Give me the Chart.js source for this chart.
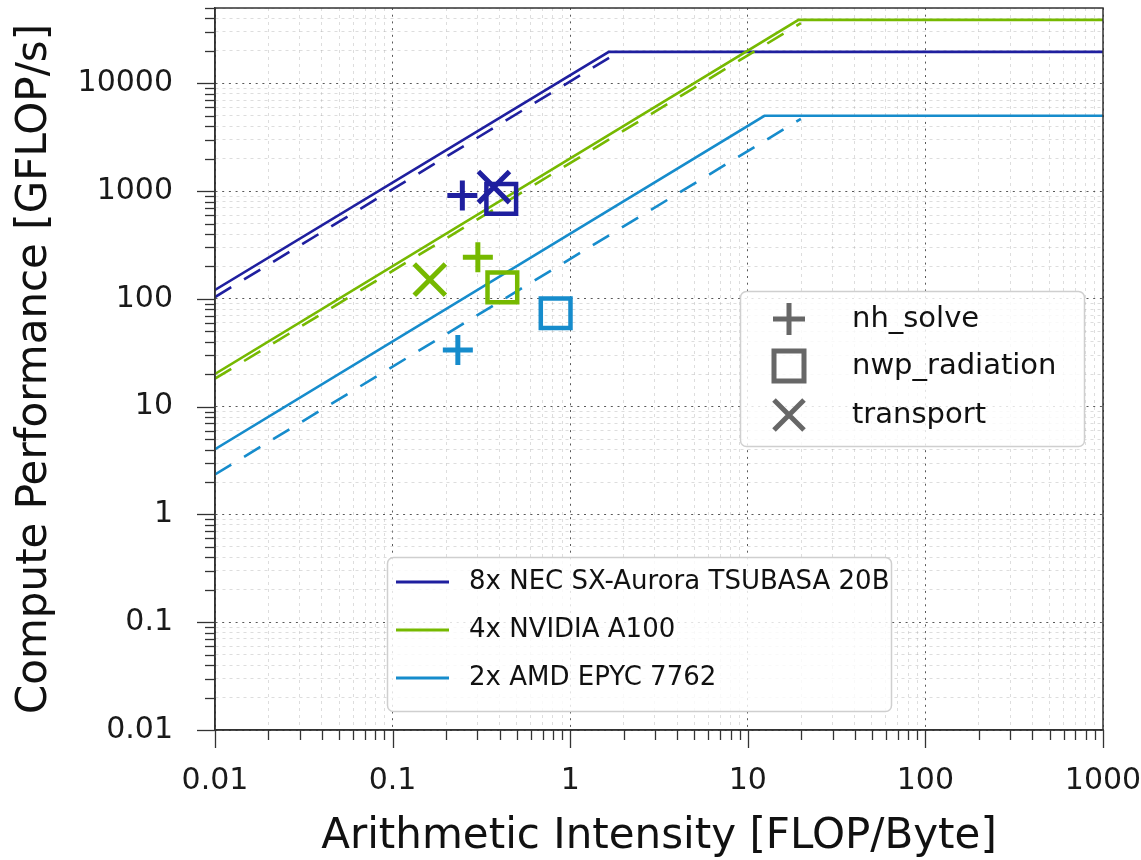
<!DOCTYPE html>
<html><head><meta charset="utf-8">
<script src="https://cdn.jsdelivr.net/npm/chart.js@4.4.1/dist/chart.umd.min.js"></script>
<style>html,body{margin:0;padding:0;background:#fff;} canvas{display:block;}</style>
</head><body>
<canvas id="c" width="1141" height="860"></canvas>
<script>
// ---- data ----
const devices = ['8x NEC SX-Aurora TSUBASA 20B', '4x NVIDIA A100', '2x AMD EPYC 7762'];
const deviceColors = ['#1f1f9f', '#76b900', '#168ccc'];
const kernels = ['nh_solve', 'nwp_radiation', 'transport'];
const kernelStyles = ['cross', 'rect', 'crossRot'];

// theoretical rooflines (solid)
const necRoofAI = [0.01, 1.65, 1000];
const necRoofPerf = [121, 19600, 19600];
const a100RoofAI = [0.01, 19.3, 1000];
const a100RoofPerf = [20.1, 38800, 38800];
const amdRoofAI = [0.01, 12.4, 1000];
const amdRoofPerf = [4.03, 5000, 5000];

// measured bandwidth lines (dashed)
const necMeasAI = [0.01, 1.91];
const necMeasPerf = [104, 19900];
const a100MeasAI = [0.01, 19.9];
const a100MeasPerf = [18.2, 36200];
const amdMeasAI = [0.01, 19.9];
const amdMeasPerf = [2.35, 4680];

// kernels: [nh_solve, nwp_radiation, transport]
const necKernelAI = [0.247, 0.409, 0.372];
const necKernelPerf = [910, 848, 1090];
const a100KernelAI = [0.302, 0.415, 0.162];
const a100KernelPerf = [244, 128, 151];
const amdKernelAI = [0.233, 0.828, null];
const amdKernelPerf = [33.6, 73.6, null];

// axes
const xTickValues = [0.01, 0.1, 1, 10, 100, 1000];
const xTickLabels = ['0.01', '0.1', '1', '10', '100', '1000'];
const yTickValues = [0.01, 0.1, 1, 10, 100, 1000, 10000];
const yTickLabels = ['0.01', '0.1', '1', '10', '100', '1000', '10000'];
const xRange = [0.01, 1000];
const yRange = [0.01, 50000];
const xTitle = 'Arithmetic Intensity [FLOP/Byte]';
const yTitle = 'Compute Performance [GFLOP/s]';

// ---- helpers ----
function pts(xs, ys) {
  const out = [];
  for (let i = 0; i < xs.length; i++) if (xs[i] != null && ys[i] != null) out.push({x: xs[i], y: ys[i]});
  return out;
}
function logTicks(min, max) {
  const t = [];
  for (let d = Math.log10(min); d <= Math.log10(max); d++) {
    for (let m = 1; m <= 9; m++) {
      const v = Number((m * Math.pow(10, d)).toPrecision(6));
      if (v <= max * 1.0001) t.push({value: v});
    }
  }
  return t;
}
function isMajor(v) {
  const l = Math.log10(v);
  return Math.abs(l - Math.round(l)) < 1e-6;
}
function labelFor(v, vals, labels) {
  for (let i = 0; i < vals.length; i++) if (Math.abs(v - vals[i]) / vals[i] < 1e-6) return labels[i];
  return '';
}

const roofs = [
  [necRoofAI, necRoofPerf, necMeasAI, necMeasPerf, necKernelAI, necKernelPerf],
  [a100RoofAI, a100RoofPerf, a100MeasAI, a100MeasPerf, a100KernelAI, a100KernelPerf],
  [amdRoofAI, amdRoofPerf, amdMeasAI, amdMeasPerf, amdKernelAI, amdKernelPerf]
];

const datasets = [];
roofs.forEach((r, i) => {
  datasets.push({type: 'line', label: devices[i], data: pts(r[0], r[1]), borderColor: deviceColors[i],
    borderWidth: 2.6, pointRadius: 0, fill: false, tension: 0, order: 5 - i});
  datasets.push({type: 'line', label: devices[i] + ' (measured)', data: pts(r[2], r[3]), borderColor: deviceColors[i],
    borderWidth: 2.6, borderDash: [19, 15], pointRadius: 0, fill: false, tension: 0, order: 5 - i});
});
const markerSize = {cross: 15, rect: 21, crossRot: 22};
const markerWidth = {cross: 5, rect: 4.5, crossRot: 5};
roofs.forEach((r, i) => {
  kernels.forEach((k, j) => {
    if (r[4][j] == null) return;
    datasets.push({type: 'scatter', label: devices[i] + ' ' + k, data: pts([r[4][j]], [r[5][j]]),
      pointStyle: kernelStyles[j], pointRadius: markerSize[kernelStyles[j]], pointHoverRadius: markerSize[kernelStyles[j]],
      pointBorderWidth: markerWidth[kernelStyles[j]], borderColor: deviceColors[i], pointBorderColor: deviceColors[i],
      pointBackgroundColor: 'rgba(0,0,0,0)', backgroundColor: 'rgba(0,0,0,0)', showLine: false, order: 0});
  });
});

const gridColor = (c) => (c.tick && isMajor(c.tick.value)) ? 'rgba(60,60,60,0.85)' : 'rgba(170,170,170,0.4)';
const gridDash = (c) => c.tick ? (isMajor(c.tick.value) ? [2, 4.7] : [3, 4]) : [];

const axisDecor = {
  id: 'axisDecor',
  afterDatasetsDraw(chart) {
    const {ctx, chartArea: a, scales} = chart;
    ctx.save();
    ctx.strokeStyle = '#333';
    ctx.lineWidth = 1.5;
    ctx.setLineDash([]);
    ctx.strokeRect(a.left, a.top, a.right - a.left, a.bottom - a.top);
    ctx.lineWidth = 1.3;
    scales.x.ticks.forEach(t => {
      const px = Math.round(scales.x.getPixelForValue(t.value)) + 0.5;
      const len = isMajor(t.value) ? 18 : 10;
      ctx.beginPath(); ctx.moveTo(px, a.bottom); ctx.lineTo(px, a.bottom + len); ctx.stroke();
    });
    scales.y.ticks.forEach(t => {
      const py = Math.round(scales.y.getPixelForValue(t.value)) + 0.5;
      const len = isMajor(t.value) ? 18 : 10;
      ctx.beginPath(); ctx.moveTo(a.left, py); ctx.lineTo(a.left - len, py); ctx.stroke();
    });
    ctx.restore();
  },
  afterDraw(chart) {
    const ctx = chart.ctx;
    function box(x, y, w, h) {
      ctx.save();
      ctx.beginPath();
      ctx.roundRect(x, y, w, h, 6);
      ctx.fillStyle = 'rgba(255,255,255,0.82)';
      ctx.fill();
      ctx.strokeStyle = '#cfcfcf';
      ctx.lineWidth = 1.5;
      ctx.stroke();
      ctx.restore();
    }
    // kernel legend
    box(740.5, 291.5, 344, 155);
    const rows1 = [319, 366, 415];
    ctx.save();
    ctx.strokeStyle = '#676767';
    ctx.lineWidth = 5;
    kernels.forEach((k, j) => {
      const cx = 789, cy = rows1[j];
      ctx.beginPath();
      if (kernelStyles[j] === 'cross') {
        ctx.moveTo(cx - 16, cy); ctx.lineTo(cx + 16, cy); ctx.moveTo(cx, cy - 16); ctx.lineTo(cx, cy + 16);
      } else if (kernelStyles[j] === 'rect') {
        ctx.rect(cx - 15, cy - 15, 30, 30);
      } else {
        ctx.moveTo(cx - 15, cy - 15); ctx.lineTo(cx + 15, cy + 15); ctx.moveTo(cx + 15, cy - 15); ctx.lineTo(cx - 15, cy + 15);
      }
      ctx.stroke();
    });
    ctx.fillStyle = '#111';
    ctx.font = '29px "DejaVu Sans"';
    ctx.textBaseline = 'middle';
    kernels.forEach((k, j) => ctx.fillText(k, 852, rows1[j]));
    ctx.restore();
    // device legend
    box(387.5, 557.5, 504, 154);
    const rows2 = [582, 630, 678];
    ctx.save();
    ctx.lineWidth = 3;
    devices.forEach((d, i) => {
      ctx.strokeStyle = deviceColors[i];
      ctx.beginPath(); ctx.moveTo(396, rows2[i]); ctx.lineTo(449, rows2[i]); ctx.stroke();
    });
    ctx.fillStyle = '#111';
    ctx.font = '26px "DejaVu Sans"';
    ctx.textBaseline = 'middle';
    devices.forEach((d, i) => ctx.fillText(d, 469, rows2[i]));
    ctx.restore();
  }
};

Chart.defaults.font.family = '"DejaVu Sans"';
Chart.defaults.color = '#1a1a1a';

new Chart(document.getElementById('c'), {
  type: 'scatter',
  data: {datasets},
  options: {
    responsive: false,
    animation: false,
    devicePixelRatio: 1,
    layout: {autoPadding: false, padding: {top: 8, right: 38, left: 0, bottom: 0}},
    plugins: {legend: {display: false}, tooltip: {enabled: false}},
    scales: {
      x: {
        type: 'logarithmic', min: xRange[0], max: xRange[1], position: 'bottom',
        afterBuildTicks: (s) => { s.ticks = logTicks(xRange[0], xRange[1]); },
        afterFit: (s) => { s.height = 130; s.paddingLeft = 0; s.paddingRight = 0; },
        ticks: {autoSkip: false, maxRotation: 0, minRotation: 0, padding: 33, font: {size: 30}, color: '#1a1a1a',
          callback: (v) => labelFor(v, xTickValues, xTickLabels)},
        grid: {color: gridColor, lineWidth: 1, drawTicks: false},
        border: {display: true, color: '#333', width: 1.5, dash: gridDash},
        title: {display: true, text: xTitle, font: {size: 42, lineHeight: 1}, color: '#111', padding: {top: 0, bottom: 2}}
      },
      y: {
        type: 'logarithmic', min: yRange[0], max: yRange[1], position: 'left',
        afterBuildTicks: (s) => { s.ticks = logTicks(yRange[0], yRange[1]); },
        afterFit: (s) => { s.width = 215; s.paddingTop = 0; s.paddingBottom = 0; },
        ticks: {autoSkip: false, padding: 42, font: {size: 30}, color: '#1a1a1a',
          callback: (v) => labelFor(v, yTickValues, yTickLabels)},
        grid: {color: gridColor, lineWidth: 1, drawTicks: false},
        border: {display: true, color: '#333', width: 1.5, dash: gridDash},
        title: {display: true, text: yTitle, font: {size: 42, lineHeight: 1}, color: '#111', padding: {top: 14, bottom: 0}}
      }
    }
  },
  plugins: [axisDecor]
});
</script>
</body></html>
